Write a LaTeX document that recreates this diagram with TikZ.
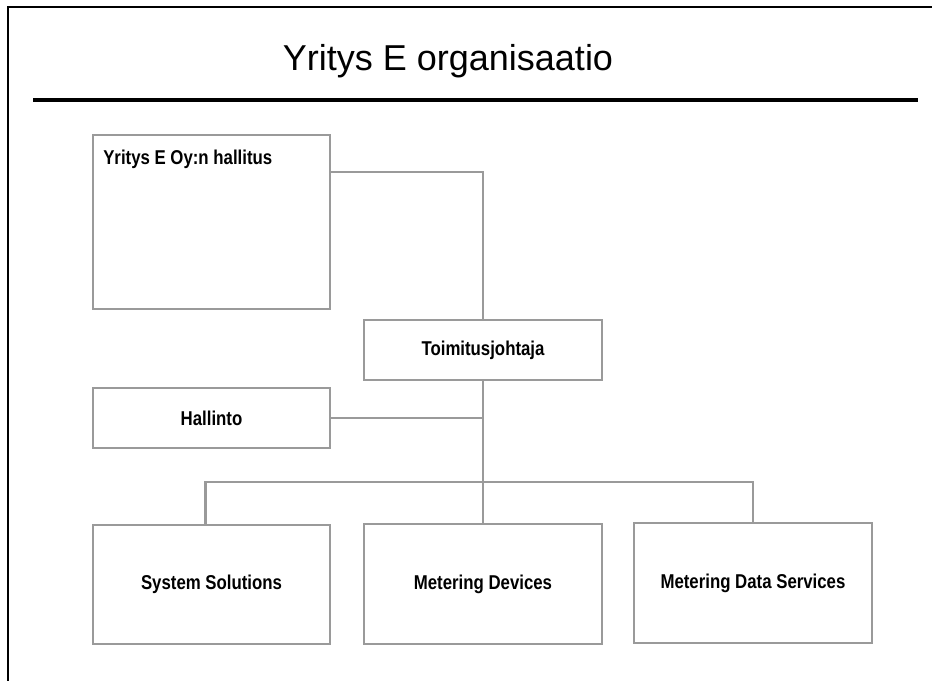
\documentclass[tikz,border=0pt]{standalone}
\usepackage{fontspec}
\setmainfont{Liberation Sans}
\newfontfamily\boxfont[FakeStretch=0.84]{Liberation Sans}
\begin{document}
\begin{tikzpicture}[x=0.75pt,y=-0.75pt,
  orgbox/.style 2 args={draw=boxgray, line width=2.2pt, fill=white,
    inner sep=0pt, outer sep=0pt, anchor=north west,
    minimum width={#1*0.75pt}, minimum height={#2*0.75pt},
    font=\boxfont\bfseries\fontsize{15pt}{17pt}\selectfont},
  conn/.style={draw=boxgray, line width=2.2pt},
  frameline/.style={draw=black, line width=1.8pt},
]
\definecolor{boxgray}{HTML}{9A9A9A}
\useasboundingbox (0,0) rectangle (932,681);
\fill[white] (0,0) rectangle (932,681);

% page frame (top and left edges)
\draw[frameline] (932,7) -- (8,7) -- (8,681);

% title and rule
\node[anchor=base, font=\fontsize{27pt}{30pt}\selectfont, inner sep=0pt] (title) at (448,71) {Yritys E organisaatio};
\coordinate (ruleL) at (33,100);
\coordinate (ruleR) at (918,100);
\draw[draw=black, line width=2.6pt] (ruleL) -- (ruleR);

% boxes
\node[orgbox={237}{174}] (hallitus) at (93,135) {};
\node[anchor=base west, inner sep=0pt, font=\boxfont\bfseries\fontsize{15pt}{17pt}\selectfont] (hallitustext) at (103,165) {Yritys E Oy:n hallitus};
\node[orgbox={238}{60}] (toim) at (364,320) {Toimitusjohtaja};
\node[orgbox={237}{60}] (hallinto) at (93,388) {Hallinto};
\node[orgbox={237}{119}] (sys) at (93,525) {System Solutions};
\node[orgbox={238}{120}] (metdev) at (364,524) {Metering Devices};
\node[orgbox={238}{120}] (mds) at (634,523) {Metering Data Services};

% connectors
\coordinate (bar) at (483,482);
\draw[conn] ([yshift=-37*0.75pt]hallitus.north east) -| (toim.north);
\draw[conn] (toim.south) -- (metdev.north);
\draw[conn] (hallinto.east) -- (hallinto.east -| toim.south);
\draw[conn] ([xshift=-4.5pt]sys.north) |- (bar) -| (mds.north);
\end{tikzpicture}
\end{document}
